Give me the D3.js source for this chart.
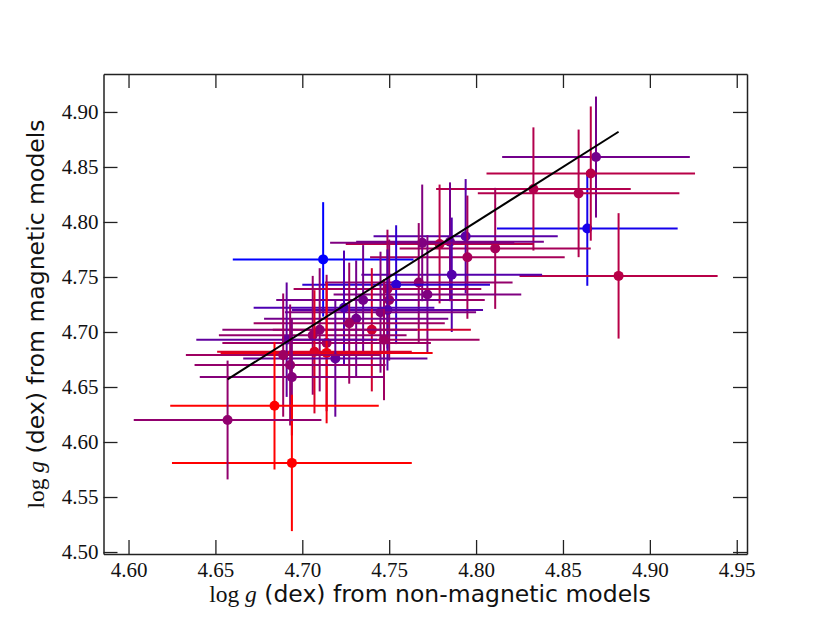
<!DOCTYPE html>
<html>
<head>
<meta charset="utf-8">
<script src="https://cdn.jsdelivr.net/npm/d3@7"></script>
<style>
  body { margin: 0; background: #fff; }
</style>
</head>
<body>
<script>
// log g from non-magnetic models (x) vs magnetic models (y)
var loggNonMag = [4.712, 4.864, 4.882, 4.869, 4.866, 4.859, 4.833, 4.811, 4.794, 4.795,
                  4.785, 4.779, 4.786, 4.769, 4.767, 4.772, 4.754, 4.749, 4.750, 4.749,
                  4.745, 4.747, 4.740, 4.735, 4.724, 4.731, 4.727, 4.710, 4.706, 4.714,
                  4.714, 4.707, 4.719, 4.691, 4.689, 4.693, 4.694, 4.684, 4.694, 4.657]
var loggMag    = [4.766, 4.794, 4.751, 4.859, 4.844, 4.826, 4.830, 4.776, 4.787, 4.768,
                  4.782, 4.780, 4.752, 4.781, 4.745, 4.734, 4.743, 4.739, 4.729, 4.720,
                  4.718, 4.693, 4.702, 4.729, 4.722, 4.712, 4.708, 4.702, 4.697, 4.690,
                  4.681, 4.682, 4.676, 4.693, 4.679, 4.670, 4.659, 4.633, 4.581, 4.620]
var errNonMag  = [0.052, 0.052, 0.057, 0.054, 0.060, 0.058, 0.056, 0.055, 0.053, 0.056,
                  0.054, 0.054, 0.052, 0.053, 0.054, 0.054, 0.054, 0.054, 0.055, 0.055,
                  0.055, 0.055, 0.057, 0.050, 0.052, 0.053, 0.055, 0.056, 0.054, 0.060,
                  0.061, 0.056, 0.053, 0.052, 0.056, 0.055, 0.053, 0.060, 0.069, 0.054]
var errMag     = [0.052, 0.052, 0.057, 0.055, 0.061, 0.058, 0.056, 0.055, 0.052, 0.056,
                  0.054, 0.054, 0.052, 0.053, 0.054, 0.054, 0.054, 0.054, 0.055, 0.055,
                  0.055, 0.055, 0.056, 0.050, 0.052, 0.053, 0.055, 0.056, 0.054, 0.062,
                  0.064, 0.056, 0.053, 0.052, 0.056, 0.055, 0.053, 0.058, 0.062, 0.054]
// 0 = blue, 1 = red
var tint       = [0.00, 0.08, 0.72, 0.45, 0.72, 0.70, 0.70, 0.65, 0.35, 0.65,
                  0.45, 0.72, 0.33, 0.50, 0.58, 0.50, 0.18, 0.65, 0.60, 0.35,
                  0.50, 0.62, 0.82, 0.45, 0.30, 0.45, 0.62, 0.55, 0.58, 0.62,
                  0.95, 0.85, 0.40, 0.38, 0.62, 0.58, 0.52, 1.00, 1.00, 0.57]

var fitLine = [4.657, 4.882]
var xTicks = [4.60, 4.65, 4.70, 4.75, 4.80, 4.85, 4.90, 4.95]
var yTicks = [4.50, 4.55, 4.60, 4.65, 4.70, 4.75, 4.80, 4.85, 4.90]

var W = 830, H = 623
var plotLeft = 103.5, plotRight = 747, plotTop = 74, plotBottom = 554

var svg = d3.select("body").append("svg")
    .attr("width", W)
    .attr("height", H)

var x = d3.scaleLinear().domain([4.5856, 4.9559]).range([plotLeft, plotRight])
var y = d3.scaleLinear().domain([4.4982, 4.9345]).range([plotBottom, plotTop])
var col = d3.scaleLinear().domain([0, 1]).range(["#0000ff", "#ff0000"])

var points = loggNonMag.map(function(v, i){
  return {x: v, y: loggMag[i], ex: errNonMag[i], ey: errMag[i], t: tint[i]}
})

var g = svg.selectAll("g.pt")
    .data(points)
    .enter()
    .append("g")
    .attr("class", "pt")

g.append("line")
    .attr("x1", function(d){ return x(d.x - d.ex) })
    .attr("x2", function(d){ return x(d.x + d.ex) })
    .attr("y1", function(d){ return y(d.y) })
    .attr("y2", function(d){ return y(d.y) })
    .style("stroke", function(d){ return col(d.t) })
    .style("stroke-width", 2)

g.append("line")
    .attr("x1", function(d){ return x(d.x) })
    .attr("x2", function(d){ return x(d.x) })
    .attr("y1", function(d){ return y(d.y - d.ey) })
    .attr("y2", function(d){ return y(d.y + d.ey) })
    .style("stroke", function(d){ return col(d.t) })
    .style("stroke-width", 2)

g.append("circle")
    .attr("cx", function(d){ return x(d.x) })
    .attr("cy", function(d){ return y(d.y) })
    .attr("r", 5)
    .style("fill", function(d){ return col(d.t) })

svg.append("line")
    .attr("x1", x(fitLine[0]))
    .attr("y1", y(fitLine[0]))
    .attr("x2", x(fitLine[1]))
    .attr("y2", y(fitLine[1]))
    .style("stroke", "#000")
    .style("stroke-width", 2)

// axes, ticks pointing inwards on all four sides
function styleAxis(sel){
  sel.selectAll("path").style("stroke", "#222").style("stroke-width", 1.5)
  sel.selectAll("line").style("stroke", "#222").style("stroke-width", 1.3)
  sel.selectAll("text")
     .attr("font-family", "'Liberation Serif', 'DejaVu Serif', serif")
     .attr("font-size", 21)
     .style("fill", "#111")
}

svg.append("g")
    .attr("transform", "translate(0," + plotBottom + ")")
    .call(d3.axisBottom(x).tickValues(xTicks).tickFormat(d3.format(".2f"))
          .tickSizeInner(-14).tickSizeOuter(0).tickPadding(8))
    .call(styleAxis)

svg.append("g")
    .attr("transform", "translate(0," + plotTop + ")")
    .call(d3.axisTop(x).tickValues(xTicks).tickFormat("")
          .tickSizeInner(-14).tickSizeOuter(0))
    .call(styleAxis)

svg.append("g")
    .attr("transform", "translate(" + plotLeft + ",0)")
    .call(d3.axisLeft(y).tickValues(yTicks).tickFormat(d3.format(".2f"))
          .tickSizeInner(-14).tickSizeOuter(0).tickPadding(5))
    .call(styleAxis)

svg.append("g")
    .attr("transform", "translate(" + plotRight + ",0)")
    .call(d3.axisRight(y).tickValues(yTicks).tickFormat("")
          .tickSizeInner(-14).tickSizeOuter(0))
    .call(styleAxis)

function axisLabel(t, rest){
  t.append("tspan").attr("font-family", "'Liberation Serif', serif").text("log ")
  t.append("tspan").attr("font-family", "'Liberation Serif', serif").attr("font-style", "italic").text("g")
  t.append("tspan").attr("font-family", "'DejaVu Sans', sans-serif").text(" " + rest)
}

svg.append("text")
    .attr("x", 430)
    .attr("y", 602)
    .attr("text-anchor", "middle")
    .attr("font-size", 23.5)
    .style("fill", "#111")
    .call(axisLabel, "(dex) from non-magnetic models")

svg.append("text")
    .attr("transform", "translate(44," + (plotTop + plotBottom) / 2 + ") rotate(-90)")
    .attr("text-anchor", "middle")
    .attr("font-size", 23.5)
    .style("fill", "#111")
    .call(axisLabel, "(dex) from magnetic models")
</script>
</body>
</html>
